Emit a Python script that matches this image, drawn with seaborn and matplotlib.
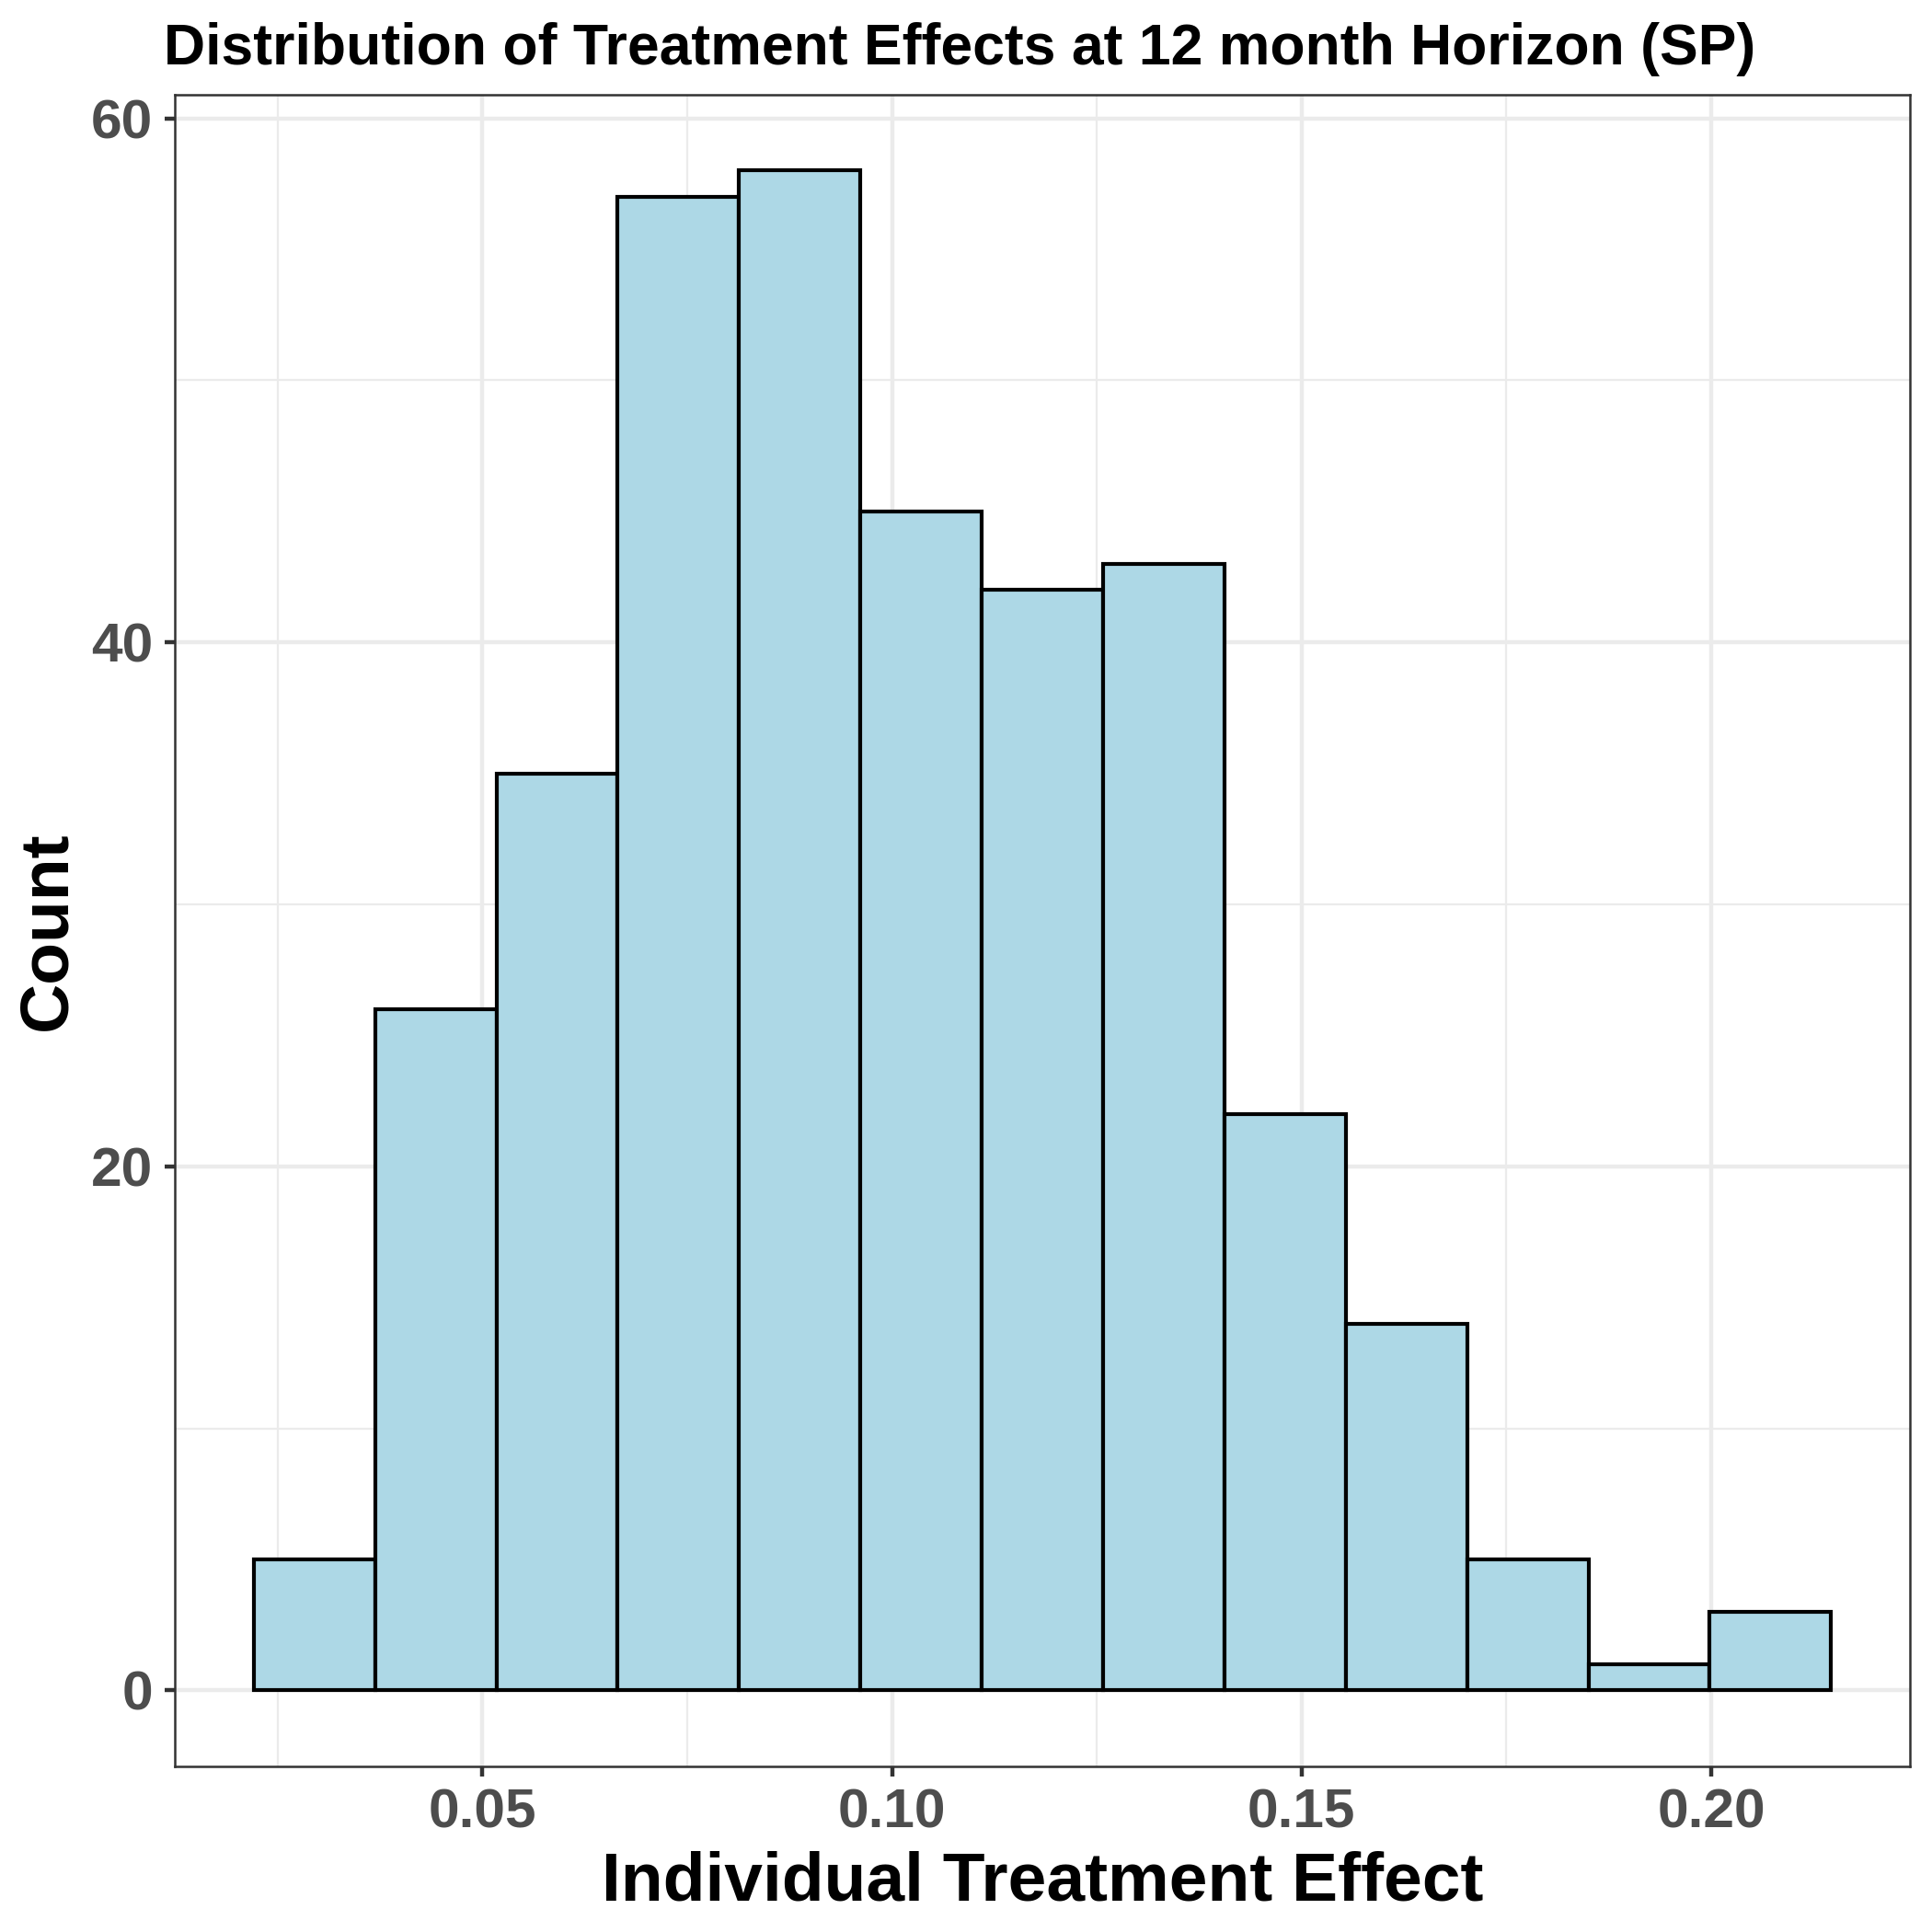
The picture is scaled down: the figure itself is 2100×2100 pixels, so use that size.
import matplotlib
matplotlib.use("Agg")
import matplotlib.pyplot as plt
import numpy as np
import pandas as pd
import seaborn as sns
from matplotlib.ticker import MultipleLocator

# Conteggi per classe
bin_counts = [5, 26, 35, 57, 58, 45, 42, 43, 22, 14, 5, 1, 3]
bin_start = 0.0221
bin_width = 0.01481
x_ticks = [0.05, 0.10, 0.15, 0.20]
x_tick_labels = ["0.05", "0.10", "0.15", "0.20"]
y_ticks = [0, 20, 40, 60]

edges = bin_start + bin_width * np.arange(len(bin_counts) + 1)
centers = (edges[:-1] + edges[1:]) / 2
df = pd.DataFrame({"effect": centers, "count": bin_counts})

sns.set_theme(style="white")
plt.rcParams["font.family"] = ["Liberation Sans", "DejaVu Sans"]

fig = plt.figure(figsize=(7, 7), dpi=300, facecolor="white")
ax = fig.add_axes([0.0905, 0.0857, 0.8981, 0.8653])

sns.histplot(data=df, x="effect", weights="count", bins=edges.tolist(), color="#ADD8E6",
             edgecolor="black", linewidth=1.0, alpha=1.0, ax=ax, zorder=3)

# Limiti con espansione stile ggplot (5%)
span = edges[-1] - edges[0]
ax.set_xlim(edges[0] - 0.05 * span, edges[-1] + 0.05 * span)
ymax = max(bin_counts)
ax.set_ylim(-0.05 * ymax, ymax * 1.05)

ax.set_xticks(x_ticks)
ax.set_xticklabels(x_tick_labels)
ax.set_yticks(y_ticks)
ax.xaxis.set_minor_locator(MultipleLocator(0.025))
ax.yaxis.set_minor_locator(MultipleLocator(10))

ax.grid(which="major", color="#EBEBEB", linewidth=1.07, zorder=0)
ax.grid(which="minor", color="#EBEBEB", linewidth=0.53, zorder=0)
ax.set_axisbelow(True)

for s in ax.spines.values():
    s.set_visible(True)
    s.set_color("#333333")
    s.set_linewidth(0.6)

ax.tick_params(which="major", length=2.75, width=1.07, color="#333333",
               labelsize=14.5, labelcolor="#4D4D4D", pad=3, left=True, bottom=True)
ax.tick_params(which="minor", length=0, left=False, bottom=False)
for lab in ax.get_xticklabels() + ax.get_yticklabels():
    lab.set_fontweight("bold")

ax.set_xlabel("Individual Treatment Effect", fontsize=18, fontweight="bold", color="black", labelpad=3)
ax.set_ylabel("Count", fontsize=18, fontweight="bold", color="black")
ax.yaxis.label.set_va("center")
ax.yaxis.set_label_coords(-0.073, 0.5)

fig.text(0.4967, 0.9667, "Distribution of Treatment Effects at 12 month Horizon (SP)",
         ha="center", va="baseline", fontsize=15, fontweight="bold", color="black")

fig.savefig("out.png", dpi=300, facecolor="white")
